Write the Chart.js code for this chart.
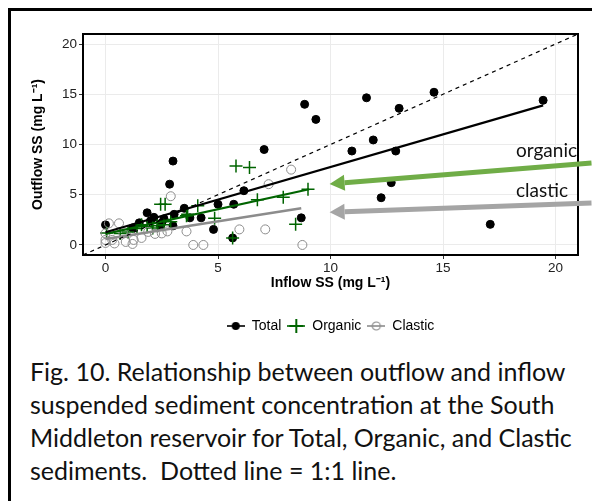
<!DOCTYPE html>
<html>
<head>
<meta charset="utf-8">
<script src="https://cdn.jsdelivr.net/npm/chart.js@4.4.1/dist/chart.umd.min.js"></script>
<style>
  body { margin: 0; background: #fff; width: 592px; height: 501px; overflow: hidden; position: relative; }
  #frame { position: absolute; left: 8px; top: 8px; width: 700px; height: 700px;
           border-top: 3px solid #000; border-left: 3px solid #000; }
  #wrap { position: absolute; left: 0; top: 0; }
  .note { position: absolute; left: 516px; font-family: Lato, "Open Sans", sans-serif; font-size: 19px;
          color: #111; line-height: 1; white-space: nowrap; }
  #caption { position: absolute; left: 30px; top: 355px; font-family: Lato, "Open Sans", sans-serif;
             font-size: 25px; line-height: 33px; color: #111; white-space: nowrap; }
</style>
</head>
<body>
<div id="frame"></div>
<div id="wrap"><canvas id="chart" width="592" height="343"></canvas></div>
<div class="note" style="top:140px">organic</div>
<div class="note" style="top:180px">clastic</div>
<div id="caption">Fig. 10. Relationship between outflow and inflow<br>suspended sediment concentration at the South<br>Middleton reservoir for Total, Organic, and Clastic<br>sediments.&nbsp; Dotted line = 1:1 line.</div>

<script>
// values (mg/L)
const totalX = [0.0, 1.2, 1.5, 1.85, 2.0, 2.15, 2.45, 2.5, 2.6, 2.85, 3.0, 3.05, 3.0, 3.5, 3.75, 4.25, 4.8, 5.0, 5.7, 5.65,
  6.15, 7.05, 8.7, 8.85, 9.35, 10.95, 11.6, 11.9, 12.25, 12.7, 12.9, 13.05, 14.6, 17.1, 19.45];
const totalY = [2.0, 1.7, 2.2, 3.2, 2.4, 2.75, 1.9, 2.2, 2.6, 6.05, 8.35, 3.05, 1.9, 3.65, 2.7, 2.7, 1.55, 4.05, 4.05, 0.7,
  5.4, 9.5, 2.7, 14.0, 12.5, 9.35, 14.65, 10.45, 4.7, 6.2, 9.35, 13.6, 15.2, 2.05, 14.4];

const organicX = [0.05, 0.65, 1.0, 1.4, 1.6, 1.85, 2.1, 2.3, 2.6, 2.9, 2.45, 2.65, 3.6, 3.65, 4.1, 4.85, 5.65, 5.8, 6.4,
  6.75, 7.9, 8.45, 9.0];
const organicY = [1.2, 1.15, 1.3, 1.65, 2.0, 1.8, 1.7, 1.9, 2.0, 2.3, 4.05, 4.05, 2.9, 3.05, 3.9, 2.65, 0.7, 7.85, 7.7,
  4.5, 4.75, 2.05, 5.55];

const clasticX = [0, 0, 0, 0.15, 0.3, 0.4, 0.6, 0.8, 0.9, 1.2, 1.25, 1.6, 1.9, 2.2, 2.5, 2.75, 2.9, 3.6, 3.9, 4.35,
  5.95, 7.1, 7.25, 8.25, 8.75];
const clasticY = [0.2, 0.5, 1.15, 2.15, 0.5, 0.15, 2.15, 1.15, 0.3, 0.1, 0.5, 0.7, 1.3, 1.1, 1.15, 1.35, 4.85, 1.35, 0, 0,
  1.55, 1.55, 6.05, 7.5, 0];

// fitted lines as drawn (end points)
const totalFitX = [0, 19.45], totalFitY = [1.27, 13.9];
const organicFitX = [0, 9.05], organicFitY = [1.1, 5.55];
const clasticFitX = [0, 8.7], clasticFitY = [0.6, 3.65];
const oneToOne = [-1, 21];

// annotation arrows (tail -> tip, data units)
const arrowTail = [[21.6, 8.15], [21.6, 4.18]];
const arrowTip = [[9.96, 6.07], [9.96, 3.25]];
const arrowColors = ["#70ad47", "#a5a5a5"];

const axisTicks = [0, 5, 10, 15, 20];

const GREEN = "#006400";
const GREY = "#8c8c8c";

function pts(xs, ys) {
  return xs.map((x, i) => ({ x: x, y: ys[i] }));
}

// little legend keys: line with the marker on it
function legendIcon(color, kind) {
  const c = document.createElement("canvas");
  c.width = 18; c.height = 14;
  const g = c.getContext("2d");
  g.strokeStyle = color; g.fillStyle = color; g.lineWidth = 1.6;
  g.beginPath(); g.moveTo(0, 7); g.lineTo(18, 7); g.stroke();
  if (kind === "dot") {
    g.beginPath(); g.arc(9, 7, 4, 0, Math.PI * 2); g.fill();
  } else if (kind === "plus") {
    g.lineWidth = 2;
    g.beginPath(); g.moveTo(9, 0); g.lineTo(9, 14); g.moveTo(2, 7); g.lineTo(16, 7); g.stroke();
  } else {
    g.lineWidth = 1.2;
    g.beginPath(); g.arc(9, 7, 4, 0, Math.PI * 2); g.stroke();
  }
  return c;
}

// plot frame + arrows
const extras = {
  id: "extras",
  afterDatasetsDraw(chart) {
    const { ctx, chartArea: a, scales } = chart;
    ctx.save();
    ctx.strokeStyle = "#000";
    ctx.lineWidth = 2;
    ctx.strokeRect(a.left, a.top, a.right - a.left, a.bottom - a.top);

    arrowTail.forEach((t, i) => {
      const x0 = scales.x.getPixelForValue(t[0]), y0 = scales.y.getPixelForValue(t[1]);
      const x1 = scales.x.getPixelForValue(arrowTip[i][0]), y1 = scales.y.getPixelForValue(arrowTip[i][1]);
      const ang = Math.atan2(y1 - y0, x1 - x0);
      const head = 15, half = 8;
      const bx = x1 - head * Math.cos(ang), by = y1 - head * Math.sin(ang);
      ctx.strokeStyle = arrowColors[i];
      ctx.fillStyle = arrowColors[i];
      ctx.lineWidth = 5;
      ctx.beginPath(); ctx.moveTo(x0, y0); ctx.lineTo(bx, by); ctx.stroke();
      ctx.beginPath();
      ctx.moveTo(x1, y1);
      ctx.lineTo(bx + half * Math.sin(ang), by - half * Math.cos(ang));
      ctx.lineTo(bx - half * Math.sin(ang), by + half * Math.cos(ang));
      ctx.closePath(); ctx.fill();
    });
    ctx.restore();
  }
};

Chart.defaults.font.family = "'Liberation Sans', Arial, sans-serif";

const tickFont = { size: 13.5 };
const titleFont = { size: 14, weight: "bold" };

new Chart(document.getElementById("chart"), {
  type: "scatter",
  data: {
    datasets: [
      { label: "Total", data: pts(totalX, totalY), pointStyle: "circle", pointRadius: 4,
        backgroundColor: "#000", borderColor: "#000", order: 5 },
      { label: "Organic", data: pts(organicX, organicY), pointStyle: "cross", pointRadius: 6.5,
        borderColor: GREEN, backgroundColor: GREEN, pointBorderWidth: 1.5, order: 4 },
      { label: "Clastic", data: pts(clasticX, clasticY), pointStyle: "circle", pointRadius: 4.5,
        borderColor: GREY, backgroundColor: "rgba(0,0,0,0)", pointBorderWidth: 1, order: 3 },
      { label: "fit total", data: pts(totalFitX, totalFitY), showLine: true, pointRadius: 0,
        borderColor: "#000", borderWidth: 2.2, order: 2 },
      { label: "fit organic", data: pts(organicFitX, organicFitY), showLine: true, pointRadius: 0,
        borderColor: GREEN, borderWidth: 2.2, order: 2 },
      { label: "fit clastic", data: pts(clasticFitX, clasticFitY), showLine: true, pointRadius: 0,
        borderColor: GREY, borderWidth: 2.5, order: 2 },
      { label: "1:1", data: pts(oneToOne, oneToOne), showLine: true, pointRadius: 0,
        borderColor: "#000", borderWidth: 1.2, borderDash: [4, 4], order: 1 }
    ]
  },
  options: {
    responsive: false,
    animation: false,
    layout: { padding: { top: 34, right: 14, left: 0, bottom: 0 } },
    plugins: {
      tooltip: { enabled: false },
      legend: {
        position: "bottom",
        fullSize: false,
        labels: {
          usePointStyle: true,
          pointStyleWidth: 18,
          padding: 6,
          color: "#111",
          font: { size: 14 },
          generateLabels: () => [
            { text: "Total", pointStyle: legendIcon("#000", "dot"), lineWidth: 0, hidden: false, datasetIndex: 0 },
            { text: "Organic", pointStyle: legendIcon(GREEN, "plus"), lineWidth: 0, hidden: false, datasetIndex: 1 },
            { text: "Clastic", pointStyle: legendIcon(GREY, "ring"), lineWidth: 0, hidden: false, datasetIndex: 2 }
          ]
        }
      }
    },
    scales: {
      x: {
        type: "linear", min: -1, max: 21,
        afterBuildTicks: s => { s.ticks = axisTicks.map(v => ({ value: v })); },
        afterFit: s => { s.height = 58; },
        grid: { color: "#ebebeb", lineWidth: 1, tickLength: 4, tickColor: "#333" },
        border: { display: false },
        ticks: { font: tickFont, color: "#222", padding: 1, maxRotation: 0 },
        title: { display: true, text: "Inflow SS (mg L⁻¹)", font: titleFont, color: "#000",
                 padding: { top: 0, bottom: 21 } }
      },
      y: {
        type: "linear", min: -1, max: 21,
        afterBuildTicks: s => { s.ticks = axisTicks.map(v => ({ value: v })); },
        afterFit: s => { s.width = 83; },
        grid: { color: "#ebebeb", lineWidth: 1, tickLength: 4, tickColor: "#333" },
        border: { display: false },
        ticks: { font: tickFont, color: "#222", padding: 2 },
        title: { display: true, text: "Outflow SS (mg L⁻¹)", font: titleFont, color: "#000",
                 padding: { top: 30, bottom: 0 } }
      }
    }
  },
  plugins: [extras]
});
</script>
</body>
</html>
